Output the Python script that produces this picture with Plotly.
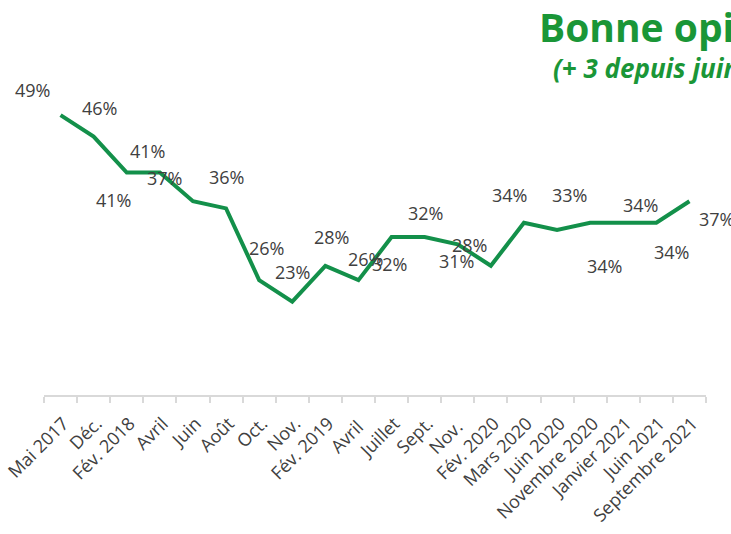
import plotly.graph_objects as go

categories = ["Mai 2017", "Déc.", "Fév. 2018", "Avril", "Juin", "Août", "Oct.", "Nov.",
              "Fév. 2019", "Avril ", "Juillet", "Sept.", "Nov. ", "Fév. 2020", "Mars 2020",
              "Juin 2020", "Novembre 2020", "Janvier 2021", "Juin 2021", "Septembre 2021"]
values = [49, 46, 41, 41, 37, 36, 26, 23, 28, 26, 32, 32, 31, 28, 34, 33, 34, 34, 34, 37]
labels = [f"{v}%" for v in values]

# label offsets in screen pixels (dx right, dy down)
label_offsets = [(-28, -25), (6, -29), (-13, 28), (-12, -21), (-28, -23), (0, -31),
                 (7, -32), (0, -30), (6, -29), (7, -21), (-2, 27), (1, -24), (-1, 17),
                 (-21, -21), (-14, -28), (12, -35), (14, 43), (17, -18), (15, 29), (27, 18)]

title_text = "Bonne opinion"
subtitle_text = "(+ 3 depuis juin)"

GREEN_LINE = "#13904a"
GREEN_TITLE = "#1a9637"
TXT = "#404040"
FONT = "Open Sans"

fig = go.Figure()
fig.add_trace(go.Scatter(x=categories, y=values, mode="lines",
                         line=dict(color=GREEN_LINE, width=4), hoverinfo="skip"))

annotations = []
for c, v, t, (dx, dy) in zip(categories, values, labels, label_offsets):
    annotations.append(dict(x=c, y=v, xref="x", yref="y", text=t, showarrow=False,
                            xshift=dx, yshift=-dy,
                            font=dict(family=FONT, size=18, color=TXT)))

L, R, T, B = 44, 25, 72, 139
W, H = 731, 534
pw = W - L - R
ph = H - T - B

def px(xp):
    return (xp - L) / pw

def py(yp):
    return (H - B - yp) / ph

annotations.append(dict(x=px(537), y=py(-2), xref="paper", yref="paper", text=f"<b>{title_text}</b>",
                        showarrow=False, xanchor="left", yanchor="top",
                        font=dict(family=FONT, size=39, color=GREEN_TITLE)))
annotations.append(dict(x=px(551), y=py(48), xref="paper", yref="paper", text=f"<b><i>{subtitle_text}</i></b>",
                        showarrow=False, xanchor="left", yanchor="top",
                        font=dict(family=FONT, size=26, color=GREEN_TITLE)))

fig.update_layout(
    width=W, height=H,
    margin=dict(l=L, r=R, t=T, b=B, autoexpand=False),
    paper_bgcolor="white", plot_bgcolor="white",
    showlegend=False,
    annotations=annotations,
    xaxis=dict(type="category", range=[-0.5, 19.5], tickson="boundaries",
               ticks="outside", ticklen=6, tickcolor="#d9d9d9", tickwidth=1.5,
               showline=True, linecolor="#d9d9d9", linewidth=2, showgrid=False,
               tickangle=-45, tickfont=dict(family=FONT, size=18, color=TXT),
               ticklabelstandoff=9, ticklabelshift=3,
               automargin=False, fixedrange=True),
    yaxis=dict(range=[10, 55], visible=False, showgrid=False, fixedrange=True,
               automargin=False),
)

fig.write_html("out.html", config={"displayModeBar": False},
               post_script="document.body.style.margin='0';document.body.style.overflow='hidden';")
